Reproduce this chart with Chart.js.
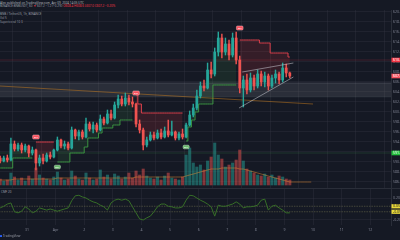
<!DOCTYPE html>
<html><head><meta charset="utf-8">
<script src="https://cdn.jsdelivr.net/npm/chart.js@4/dist/chart.umd.min.js"></script>
<style>
html,body{margin:0;padding:0;background:#151924;width:400px;height:240px;overflow:hidden;font-family:"Noto Sans",Roboto,sans-serif;}
#mainWrap{position:absolute;left:0;top:10px;width:400px;height:178px;}
#indWrap{position:absolute;left:0;top:189px;width:400px;height:46px;}
#sep{position:absolute;left:0;top:188px;width:400px;height:1px;background:#2a2e39;}
.t{position:absolute;white-space:nowrap;font-size:3px;line-height:3.5px;color:#9a9ea8;}
.r{color:#f23645;}
</style></head>
<body>
<div class="t" style="left:0;top:1.5px;color:#b2b5be">Alex published on TradingView.com, Apr 09, 2024 14:05 UTC</div>
<div class="t" style="left:0;top:5px;">BINANCE:BNBUSDT, 60 <span class="r">▼</span> 607.2 −1.2 (−0.2%) <span class="r">O608.4 H608.6 L607.0 C607.2 −0.20%</span></div>
<div class="t" style="left:0;top:12.5px;">BNB / TetherUS, 1h, BINANCE</div>
<div class="t" style="left:0;top:16.5px;">Vol 5</div>
<div class="t" style="left:0;top:20.5px;">Supertrend 10 3</div>
<div id="mainWrap"><canvas id="main"></canvas></div>
<div id="sep"></div>
<div class="t" style="left:1px;top:190.5px;">CMF 20</div>
<div id="indWrap"><canvas id="ind"></canvas></div>
<div style="position:absolute;left:0;top:235px;width:2px;height:2px;background:#2962ff;border-radius:0.5px"></div>
<div class="t" style="left:3px;top:234.5px;">TradingView</div>
<script>
// ---------- data ----------
const dayLabels = ["31","Apr","2","3","4","5","6","7","8","9","10","11","12"];
const firstMidnight = 7.5;      // candle index of Mar 31 00:00
const candlesPerDay = 8;        // 3h candles
const firstOpen = 590.8;
const closes = [590.2,590.8,590.4,593.6,592.6,593.4,592.4,593.2,591.8,592.4,
589.8,590.8,590.2,591.4,591.0,592.4,594.4,593.2,593.6,592.8,
596.4,595.2,596.0,595.0,597.6,596.6,597.4,596.4,598.6,597.8,
599.6,598.8,601.4,602.6,601.6,602.8,602.0,601.6,597.6,596.4,
593.4,594.4,595.4,594.8,595.8,595.0,596.2,595.4,596.0,594.8,
595.6,595.0,597.4,599.4,600.8,603.2,605.2,604.8,608.4,607.6,
612.0,614.8,612.0,613.6,611.4,614.8,610.4,604.8,606.4,604.4,
606.8,605.2,607.6,606.0,607.2,605.2,606.8,607.6,606.4,608.8,
607.8,607.2];
const highs = [591.2,591.2,591.4,594.8,594.2,593.8,593.8,593.6,593.4,593.0,
592.6,591.4,591.6,591.8,592.0,592.6,595.0,594.6,594.2,594.0,
597.0,596.6,596.4,596.4,598.8,598.0,598.0,597.8,599.4,599.0,
600.4,600.4,602.0,603.4,603.2,603.8,603.4,603.0,601.8,598.4,
596.8,595.0,596.0,596.0,596.4,596.6,597.0,598.4,598.2,596.2,
596.0,596.6,597.8,600.2,601.6,604.4,606.0,606.4,609.8,610.0,
612.8,616.0,615.6,614.8,614.4,615.8,616.0,611.2,607.2,607.6,
607.8,607.4,608.4,608.2,608.0,607.6,607.4,608.4,608.0,609.8,
609.6,608.0];
const lows = [589.8,590.0,590.0,590.2,592.2,592.2,591.8,592.0,591.0,591.4,
588.4,589.2,589.6,590.0,590.6,590.8,592.2,592.8,592.6,592.4,
592.6,594.6,594.4,594.6,594.8,596.2,595.8,596.0,596.2,597.4,
597.6,598.4,598.6,600.8,601.2,601.2,601.4,601.0,597.0,595.8,
592.4,593.0,594.2,594.4,594.6,594.6,594.8,595.0,595.2,594.4,
594.4,594.6,594.8,597.2,599.0,600.4,602.8,604.2,604.6,606.8,
607.2,611.2,610.8,611.4,610.4,611.0,609.6,603.8,601.0,603.6,
604.0,604.4,604.8,605.2,605.0,604.4,604.8,605.8,605.6,606.0,
607.0,606.8];
const volumes = [6,4,5,12,8,5,7,4,9,6,
17,10,7,6,5,8,13,7,5,6,
14,9,6,5,12,7,5,6,15,8,
10,6,11,9,6,8,12,7,14,10,
16,9,7,6,8,5,9,12,7,6,
5,8,30,37,22,18,20,15,24,28,
42,30,26,18,20,22,25,35,24,16,
14,12,10,9,11,8,10,7,9,8,
6,5];
const volumeMA = [5,5,5,5,6,6,6,6,6,6,
6,6,6,6,6,6,7,7,7,7,
7,7,7,7,7,7,7,7,7,7,
7,7,7,7,7,7,7,7,8,8,
8,8,8,8,8,8,8,8,8,8,
8,8,9,10,11,12,13,14,15,16,
16,16,17,17,17,17,17,16,16,15,
14,13,12,11,10,9,8,7,6,5,
4,3,3,3,3,3,3,3];
const N_ = null;
const supertrendUp = [588.8,588.8,588.8,588.8,590.8,590.8,590.8,590.8,590.8,590.8,
N_,N_,N_,N_,N_,N_,590.0,590.0,590.0,590.0,
591.8,591.8,591.8,591.8,593.0,594.8,594.8,594.8,595.8,596.8,
596.8,596.8,597.4,597.4,598.4,598.4,598.4,598.4,N_,N_,
N_,N_,N_,N_,N_,N_,N_,N_,N_,N_,
N_,N_,594.2,597.0,598.4,600.0,601.6,601.6,601.6,601.6,
605.4,605.4,605.4,605.4,605.4,605.4,605.4,N_,N_,N_,
N_,N_,N_,N_,N_,N_,N_,N_,N_,N_,
N_,N_];
const supertrendDown = [N_,N_,N_,N_,N_,N_,N_,N_,N_,N_,
594.0,594.0,594.0,594.0,594.0,594.0,N_,N_,N_,N_,
N_,N_,N_,N_,N_,N_,N_,N_,N_,N_,
N_,N_,N_,N_,N_,N_,N_,N_,603.4,601.6,
599.8,599.8,599.8,599.8,599.8,599.8,599.8,599.8,599.8,599.8,
599.8,599.8,N_,N_,N_,N_,N_,N_,N_,N_,
N_,N_,N_,N_,N_,N_,N_,614.4,614.4,614.4,
614.4,614.4,614.4,613.8,613.8,613.8,611.8,611.8,611.8,611.8,
611.8,611.0];
const sellIdx = [10,38,67], sellPrice = [595.0,603.8,616.8];
const buyIdx = [16,52], buyPrice = [589.0,593.0];
const zoneTop = 605.8, zoneBottom = 603.0;
const redLevel = 610.4, greenLevel = 591.8;
const trendUpperX = [67.7,82], trendUpperY = [608.0,609.8];
const trendLowerX = [66.8,82], trendLowerY = [600.8,607.0];
const orangeX = [-0.05,87.5], orangeY = [605.2,601.6];
const cmf = [0.02,0.05,0.09,0.11,-0.05,-0.07,-0.04,0.04,0.00,-0.07,
-0.04,0.02,0.00,-0.02,0.00,-0.02,-0.04,-0.02,0.00,0.02,
0.15,0.24,0.25,0.22,0.20,0.16,0.13,0.11,0.07,0.04,
-0.02,0.11,0.16,0.18,0.16,0.18,0.15,0.04,-0.07,-0.18,
-0.20,-0.16,-0.13,-0.05,0.04,0.09,0.09,0.05,0.04,0.02,
0.02,0.04,0.16,0.25,0.24,0.20,0.16,0.13,0.09,0.04,
-0.13,0.07,0.05,0.05,0.07,0.09,0.13,0.09,0.02,0.04,
0.04,0.05,0.07,0.16,0.18,-0.02,0.05,0.07,0.02,-0.02,
-0.07,-0.07];
const cmfLevels = [0.05,-0.05];
const priceTicks = {from:586, to:620, step:2};
const cmfTicks = [0.2,-0.2];

// ---------- build ----------
const UPC='#26a69a', DNC='#ef5350';
const GRID='rgba(54,58,69,0.33)';
const opens = closes.map((c,i)=> i===0 ? firstOpen : closes[i-1]);
const isUp = closes.map((c,i)=> c>=opens[i]);
const dayTicks = dayLabels.map((_,d)=> firstMidnight + d*candlesPerDay);
const XMIN=-0.05, XMAX=109.3;
const pts = (arr)=>arr.map((v,i)=>({x:i,y:v}));
const span = (v)=>[{x:XMIN-1,y:v},{x:XMAX+1,y:v}];
const two = (xs,ys)=>xs.map((x,k)=>({x:x,y:ys[k]}));
const line = (o)=>Object.assign({type:'line',pointRadius:0,borderWidth:1,tension:0,fill:false,spanGaps:false},o);

const priceTags = [
  {p:redLevel, bg:'#f23645', fg:'#fff'},
  {p:closes[closes.length-1], bg:'#f7525f', fg:'#fff'},
  {p:greenLevel, bg:'#22c03c', fg:'#fff'}
];

const marks = {
  id:'marks',
  afterDatasetsDraw(chart){
    const {ctx, scales:{x,y}} = chart;
    ctx.save();
    ctx.font = '2.4px "Noto Sans"';
    ctx.textAlign='center'; ctx.textBaseline='middle';
    sellIdx.forEach((k,j)=>{
      const px=x.getPixelForValue(k), py=y.getPixelForValue(sellPrice[j]);
      ctx.fillStyle='#f7525f'; ctx.strokeStyle='#ffb3b8'; ctx.lineWidth=0.5;
      ctx.beginPath(); ctx.roundRect(px-3.3,py-2,6.6,4,1); ctx.fill(); ctx.stroke();
      ctx.fillStyle='#fff'; ctx.fillText('Sell',px,py+0.2);
    });
    buyIdx.forEach((k,j)=>{
      const px=x.getPixelForValue(k), py=y.getPixelForValue(buyPrice[j]);
      ctx.fillStyle='#66bb6a'; ctx.strokeStyle='#c8e6c9'; ctx.lineWidth=0.5;
      ctx.beginPath(); ctx.roundRect(px-3,py-1.8,6,3.6,1); ctx.fill(); ctx.stroke();
      ctx.fillStyle='#fff'; ctx.fillText('Buy',px,py+0.2);
    });
    ctx.restore();
  },
  afterDraw(chart){
    const {ctx, scales:{y}, chartArea} = chart;
    ctx.save();
    ctx.font = '3.5px "Noto Sans"';
    ctx.textAlign='left'; ctx.textBaseline='middle';
    priceTags.forEach(t=>{
      const py=y.getPixelForValue(t.p);
      ctx.fillStyle=t.bg; ctx.fillRect(chartArea.right+0.5,py-2.3,10,4.6);
      ctx.fillStyle=t.fg; ctx.fillText(t.p.toFixed(1),chartArea.right+2,py+0.2);
    });
    ctx.restore();
  }
};

const noPad = s=>{s.paddingTop=0;s.paddingBottom=0;s.paddingLeft=0;s.paddingRight=0;};

new Chart(document.getElementById('main'),{
  type:'bar',
  data:{datasets:[
    line({data:span(zoneTop), borderColor:'rgba(150,153,164,0.35)', borderWidth:0.7, fill:1, backgroundColor:'rgba(120,123,134,0.22)', order:30}),
    line({data:span(zoneBottom), borderColor:'rgba(150,153,164,0.15)', borderWidth:0.7, order:30}),
    line({data:span(redLevel), borderColor:'rgba(242,54,69,0.25)', borderWidth:0.8, order:28}),
    line({data:span(greenLevel), borderColor:'rgba(76,175,80,0.25)', borderWidth:0.8, order:28}),
    {type:'bar', yAxisID:'yv', data:pts(volumes), backgroundColor:isUp.map(u=>u?'rgba(38,166,154,0.5)':'rgba(239,83,80,0.5)'), barThickness:2.4, grouped:false, order:26},
    line({yAxisID:'yv', data:pts(volumeMA), borderColor:'rgba(230,140,50,0.7)', borderWidth:0.7, order:25}),
    line({data:closes.map((c,i)=>({x:i,y:(opens[i]+c)/2})), borderColor:'rgba(0,0,0,0)', borderWidth:0, order:24}),
    line({data:pts(supertrendUp), borderColor:'#3a9140', stepped:'middle', fill:{target:6}, backgroundColor:'rgba(76,175,80,0.12)', order:22}),
    line({data:pts(supertrendDown), borderColor:'#d8404b', stepped:'middle', fill:{target:6}, backgroundColor:'rgba(242,54,69,0.15)', order:22}),
    line({data:two(orangeX,orangeY), borderColor:'rgba(210,130,30,0.6)', borderWidth:0.8, order:20}),
    {type:'bar', data:closes.map((c,i)=>({x:i,y:[lows[i],highs[i]]})), backgroundColor:isUp.map(u=>u?UPC:DNC), barThickness:0.8, grouped:false, order:6},
    {type:'bar', data:closes.map((c,i)=>({x:i,y:[opens[i],c]})), backgroundColor:isUp.map(u=>u?UPC:DNC), barThickness:2.1, minBarLength:0.8, grouped:false, order:5},
    line({data:two(trendUpperX,trendUpperY), borderColor:'rgba(205,208,215,0.75)', borderWidth:0.7, order:2}),
    line({data:two(trendLowerX,trendLowerY), borderColor:'rgba(205,208,215,0.75)', borderWidth:0.7, order:2})
  ]},
  options:{
    responsive:true, maintainAspectRatio:false, animation:false,
    layout:{padding:0},
    plugins:{legend:{display:false}, tooltip:{enabled:false}},
    scales:{
      x:{type:'linear', min:XMIN, max:XMAX, offset:false,
         afterBuildTicks:s=>{s.ticks=dayTicks.map(v=>({value:v}));},
         ticks:{display:false}, grid:{color:GRID, drawTicks:false}, border:{display:false},
         afterFit:s=>{s.height=0; noPad(s);}},
      y:{position:'right', min:584.8, max:620.4,
         afterBuildTicks:s=>{const t=[];for(let v=priceTicks.from;v<=priceTicks.to;v+=priceTicks.step)t.push({value:v});s.ticks=t;},
         ticks:{color:'#7d8190', font:{size:3.5,family:'Noto Sans'}, padding:2, autoSkip:false, callback:v=>v.toFixed(1)},
         grid:{color:GRID, drawTicks:false}, border:{display:true,color:'#2a2e39'},
         afterFit:s=>{s.width=9; noPad(s);}},
      yv:{display:false, min:-3, max:175}
    }
  },
  plugins:[marks]
});

const indTags = {
  id:'indTags',
  afterDraw(chart){
    const {ctx, scales:{y}, chartArea} = chart;
    ctx.save();
    ctx.font = '3.5px "Noto Sans"'; ctx.textAlign='left'; ctx.textBaseline='middle';
    cmfLevels.forEach(v=>{
      const py=y.getPixelForValue(v);
      ctx.fillStyle='#e8d83a'; ctx.fillRect(chartArea.right+0.5,py-2.1,10,4.2);
      ctx.fillStyle='#222'; ctx.fillText(v.toFixed(4),chartArea.right+2,py+0.2);
    });
    ctx.restore();
  }
};

new Chart(document.getElementById('ind'),{
  type:'line',
  data:{datasets:[
    line({data:span(cmfLevels[0]), borderColor:'rgba(140,140,90,0.5)', borderWidth:0.8, borderDash:[1.5,1], order:5}),
    line({data:span(cmfLevels[1]), borderColor:'rgba(140,140,90,0.5)', borderWidth:0.8, borderDash:[1.5,1], order:5}),
    line({data:pts(cmf), borderColor:'#376e28', borderWidth:1, order:1})
  ]},
  options:{
    responsive:true, maintainAspectRatio:false, animation:false,
    layout:{padding:0},
    plugins:{legend:{display:false}, tooltip:{enabled:false}},
    scales:{
      x:{type:'linear', min:XMIN, max:XMAX, offset:false,
         afterBuildTicks:s=>{s.ticks=dayTicks.map(v=>({value:v}));},
         ticks:{color:'#7d8190', font:{size:3.5,family:'Noto Sans'}, padding:2.5, maxRotation:0, autoSkip:false,
                callback:(v,idx)=>dayLabels[idx]},
         grid:{color:GRID, drawTicks:false}, border:{display:false},
         afterFit:s=>{s.height=10; noPad(s);}},
      y:{position:'right', min:-0.291, max:0.364,
         afterBuildTicks:s=>{s.ticks=cmfTicks.map(v=>({value:v}));},
         ticks:{color:'#7d8190', font:{size:3.5,family:'Noto Sans'}, padding:2, autoSkip:false, callback:v=>v.toFixed(2)},
         grid:{color:GRID, drawTicks:false}, border:{display:true,color:'#2a2e39'},
         afterFit:s=>{s.width=9; noPad(s);}}
    }
  },
  plugins:[indTags]
});
</script>
</body></html>
